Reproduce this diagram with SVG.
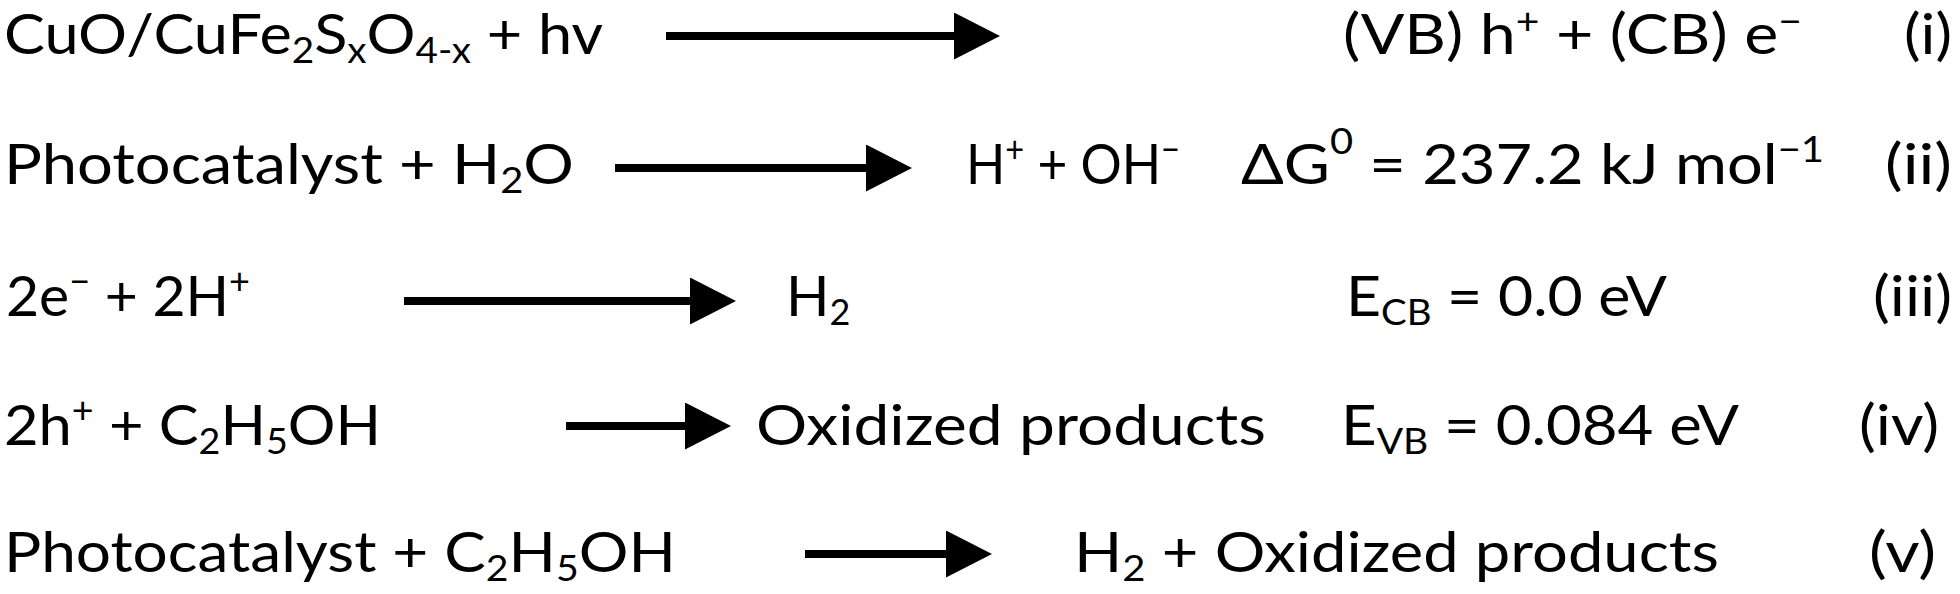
<svg xmlns="http://www.w3.org/2000/svg" width="1960" height="594" viewBox="0 0 1960 594">
<style>
.t{font-family:Lato,"Liberation Sans","DejaVu Sans",sans-serif;font-size:57px;fill:#000}
.sb{font-size:36px}
.sp{font-size:36px}
.arr{stroke:#000;stroke-width:8;fill:none}
</style>
<defs>
<marker id="ah" markerUnits="userSpaceOnUse" viewBox="0 0 46 47" markerWidth="46" markerHeight="47" refX="4" refY="23.5" orient="auto">
<path d="M0,0 L46,23.5 L0,47 Z" fill="#000"/>
</marker>
</defs>
<rect width="1960" height="594" fill="#fff"/>
<g id="connectors">
<line class="arr" x1="666" y1="36" x2="958" y2="36" marker-end="url(#ah)"/>
<line class="arr" x1="615" y1="168" x2="870" y2="168" marker-end="url(#ah)"/>
<line class="arr" x1="404" y1="301" x2="694" y2="301" marker-end="url(#ah)"/>
<line class="arr" x1="566" y1="426" x2="689" y2="426" marker-end="url(#ah)"/>
<line class="arr" x1="805" y1="554" x2="950" y2="554" marker-end="url(#ah)"/>
</g>
<g id="eq-i">
<text class="t" x="4" y="54" textLength="599" lengthAdjust="spacingAndGlyphs">CuO/CuFe<tspan class="sb" dy="9">2</tspan><tspan dy="-9">S</tspan><tspan class="sb" dy="9">x</tspan><tspan dy="-9">O</tspan><tspan class="sb" dy="9">4-x</tspan><tspan dy="-9"> + hv</tspan></text>
<text class="t" x="1343" y="54" textLength="459" lengthAdjust="spacingAndGlyphs">(VB) h<tspan class="sp" dy="-20">+</tspan><tspan dy="20"> + (CB) e</tspan><tspan class="sp" dy="-20">−</tspan></text>
<text class="t" x="1904" y="54" textLength="48" lengthAdjust="spacingAndGlyphs">(i)</text>
</g>
<g id="eq-ii">
<text class="t" x="4" y="184" textLength="570" lengthAdjust="spacingAndGlyphs">Photocatalyst + H<tspan class="sb" dy="9">2</tspan><tspan dy="-9">O</tspan></text>
<text class="t" x="966" y="184" textLength="214" lengthAdjust="spacingAndGlyphs">H<tspan class="sp" dy="-22">+</tspan><tspan dy="22"> + OH</tspan><tspan class="sp" dy="-22">−</tspan></text>
<text class="t" x="1241" y="184" textLength="583" lengthAdjust="spacingAndGlyphs">ΔG<tspan class="sp" dy="-30">0</tspan><tspan dy="30"> = 237.2 kJ mol</tspan><tspan class="sp" dy="-22">−1</tspan></text>
<text class="t" x="1885" y="184" textLength="67" lengthAdjust="spacingAndGlyphs">(ii)</text>
</g>
<g id="eq-iii">
<text class="t" x="6" y="316" textLength="244" lengthAdjust="spacingAndGlyphs">2e<tspan class="sp" dy="-22">−</tspan><tspan dy="22"> + 2H</tspan><tspan class="sp" dy="-22">+</tspan></text>
<text class="t" x="786" y="316">H<tspan class="sb" dy="9">2</tspan></text>
<text class="t" x="1346" y="316" textLength="321" lengthAdjust="spacingAndGlyphs">E<tspan class="sb" dy="9">CB</tspan><tspan dy="-9"> = 0.0 eV</tspan></text>
<text class="t" x="1873" y="316" textLength="79" lengthAdjust="spacingAndGlyphs">(iii)</text>
</g>
<g id="eq-iv">
<text class="t" x="4" y="445" textLength="377" lengthAdjust="spacingAndGlyphs">2h<tspan class="sp" dy="-22">+</tspan><tspan dy="22"> + C</tspan><tspan class="sb" dy="9">2</tspan><tspan dy="-9">H</tspan><tspan class="sb" dy="9">5</tspan><tspan dy="-9">OH</tspan></text>
<text class="t" x="756" y="445" textLength="510" lengthAdjust="spacingAndGlyphs">Oxidized products</text>
<text class="t" x="1341" y="445" textLength="398" lengthAdjust="spacingAndGlyphs">E<tspan class="sb" dy="9">VB</tspan><tspan dy="-9"> = 0.084 eV</tspan></text>
<text class="t" x="1859" y="445" textLength="80" lengthAdjust="spacingAndGlyphs">(iv)</text>
</g>
<g id="eq-v">
<text class="t" x="4" y="572" textLength="672" lengthAdjust="spacingAndGlyphs">Photocatalyst + C<tspan class="sb" dy="9">2</tspan><tspan dy="-9">H</tspan><tspan class="sb" dy="9">5</tspan><tspan dy="-9">OH</tspan></text>
<text class="t" x="1074" y="572" textLength="645" lengthAdjust="spacingAndGlyphs">H<tspan class="sb" dy="9">2</tspan><tspan dy="-9"> + Oxidized products</tspan></text>
<text class="t" x="1869" y="572" textLength="67" lengthAdjust="spacingAndGlyphs">(v)</text>
</g>
</svg>
